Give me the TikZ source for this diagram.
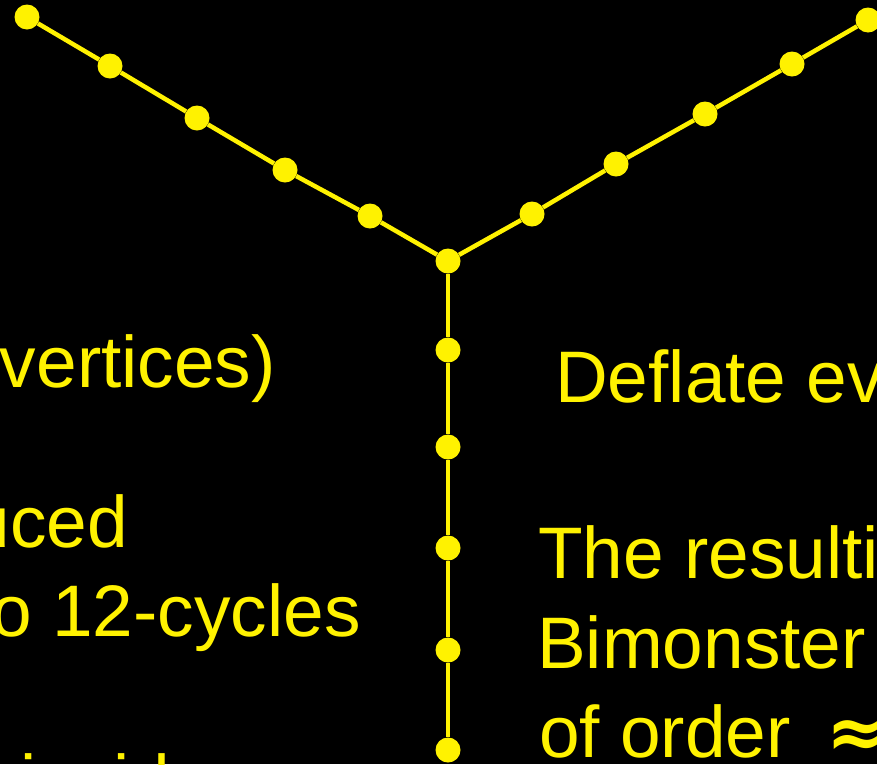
\documentclass[tikz,border=0pt]{standalone}
\usepackage{fontspec}
\setmainfont{Liberation Sans}
\newfontfamily\symfont{DejaVu Sans}
\begin{document}
\begin{tikzpicture}[x=1pt,y=-1pt,
  dot/.style={circle,fill=yellow,draw=none,minimum size=25pt,inner sep=0pt},
  edge/.style={draw=yellow,line width=4.5pt},
  txt/.style={text=yellow,inner sep=0pt,font=\fontsize{73}{88}\selectfont}]
\fill[black] (0,0) rectangle (877,764);
\useasboundingbox (0,0) rectangle (877,764);
\clip (0,0) rectangle (877,764);
% left arm
\node[dot] (l5) at (27,17) {};
\node[dot] (l4) at (110,66) {};
\node[dot] (l3) at (197,118) {};
\node[dot] (l2) at (285,170) {};
\node[dot] (l1) at (370,216) {};
\node[dot] (c) at (448,261) {};
% right arm
\node[dot] (r1) at (532,214) {};
\node[dot] (r2) at (616,164) {};
\node[dot] (r3) at (705,114) {};
\node[dot] (r4) at (792,64) {};
\node[dot] (r5) at (868,20) {};
% vertical arm
\node[dot] (v1) at (448,350) {};
\node[dot] (v2) at (448,447) {};
\node[dot] (v3) at (448,548) {};
\node[dot] (v4) at (448,650) {};
\node[dot] (v5) at (448,750) {};
\path[edge] (l5) -- (l4) -- (l3) -- (l2) -- (l1) -- (c);
\path[edge] (c) -- (r1) -- (r2) -- (r3) -- (r4) -- (r5);
\path[edge] (c) -- (v1) -- (v2) -- (v3) -- (v4) -- (v5);
% left texts
\node[txt,anchor=base east] (t1) at (276,387) {vertices)};
\node[txt,anchor=base east] (t2) at (128,547) {uced};
\node[txt,anchor=base east] (t3) at (361,636) {o 12-cycles};
\node[txt,anchor=base west] (t4) at (20,806) {incidence};
% right texts
\node[txt,anchor=base west] (s1) at (555,402) {Deflate ev};
\node[txt,anchor=base west] (s2) at (538,578) {The resulti};
\node[txt,anchor=base west] (s3) at (537,668) {Bimonster};
\node[txt,anchor=base west] (s4) at (539,757) {of order\hspace{36pt}{\symfont\bfseries ≈}};
\end{tikzpicture}
\end{document}
